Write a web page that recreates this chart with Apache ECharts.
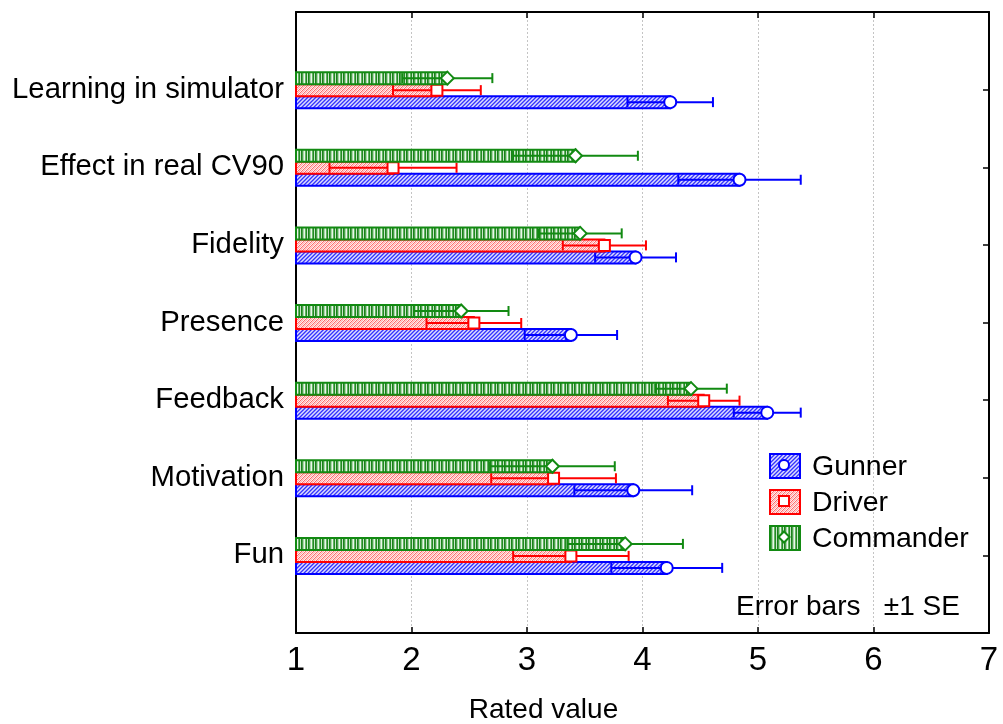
<!DOCTYPE html>
<html><head><meta charset="utf-8">
<script src="https://cdn.jsdelivr.net/npm/echarts@6/dist/echarts.min.js"></script>
<style>html,body{margin:0;padding:0;background:#fff}#c{width:1003px;height:724px}</style>
</head><body><div id="c"></div><script>
// Categories listed bottom to top
const categories = ['Fun', 'Motivation', 'Feedback', 'Presence', 'Fidelity', 'Effect in real CV90', 'Learning in simulator'];
const seriesNames = ['Gunner', 'Driver', 'Commander'];
const gunnerMean = [4.21, 3.92, 5.08, 3.38, 3.94, 4.84, 4.24];
const gunnerSE = [0.48, 0.51, 0.29, 0.40, 0.35, 0.53, 0.37];
const driverMean = [3.38, 3.23, 4.53, 2.54, 3.67, 1.84, 2.22];
const driverSE = [0.50, 0.54, 0.31, 0.41, 0.36, 0.55, 0.38];
const commanderMean = [3.85, 3.22, 4.42, 2.43, 3.46, 3.42, 2.31];
const commanderSE = [0.50, 0.54, 0.31, 0.41, 0.36, 0.54, 0.39];
const xTicks = [1, 2, 3, 4, 5, 6, 7];
const xMin = 1, xMax = 7;

const FONT = '"Liberation Sans", Arial, sans-serif';
const NARROW = '"Liberation Sans Narrow", "Arial Narrow", "Liberation Sans", sans-serif';

function makePattern(kind) {
  const cv = document.createElement('canvas');
  const w = kind === 'green' ? 7 : 4, h = kind === 'green' ? 2 : 4;
  cv.width = w; cv.height = h;
  const ctx = cv.getContext('2d');
  if (kind === 'blue') {
    const c = ['#3434ff', '#7a7aff', '#dcdcff', '#a4a4ff'];
    for (let x = 0; x < w; x++) for (let y = 0; y < h; y++) {
      ctx.fillStyle = c[(x + y) % 4]; ctx.fillRect(x, y, 1, 1);
    }
  } else if (kind === 'red') {
    const c = ['#ff6a6a', '#ffd6d6', '#ffb0b0', '#fff2f2'];
    for (let x = 0; x < w; x++) for (let y = 0; y < h; y++) {
      ctx.fillStyle = c[(x + y) % 4]; ctx.fillRect(x, y, 1, 1);
    }
  } else {
    const cols = ['#1a801a', '#4aa24a', '#a8d6a8', '#eaf6ea', '#62b262', '#238a23', '#c8e6c8'];
    cols.forEach((c, i) => { ctx.fillStyle = c; ctx.fillRect(i, 0, 1, h); });
  }
  return { image: cv, repeat: 'repeat' };
}

const styles = {
  Gunner: { stroke: '#0000ff', pattern: makePattern('blue'), marker: 'circle', offset: 12 },
  Driver: { stroke: '#ff0000', pattern: makePattern('red'), marker: 'square', offset: 0 },
  Commander: { stroke: '#128a12', pattern: makePattern('green'), marker: 'diamond', offset: -12 }
};
const BAR_H = 12;

function markerShape(kind, cx, cy, color) {
  if (kind === 'circle') return { type: 'circle', shape: { cx, cy, r: 6 }, style: { fill: '#fff', stroke: color, lineWidth: 2 } };
  if (kind === 'square') return { type: 'rect', shape: { x: cx - 5.5, y: cy - 5.5, width: 11, height: 11 }, style: { fill: '#fff', stroke: color, lineWidth: 2 } };
  return { type: 'polygon', shape: { points: [[cx, cy - 6.5], [cx + 6.5, cy], [cx, cy + 6.5], [cx - 6.5, cy]] }, style: { fill: '#fff', stroke: color, lineWidth: 2 } };
}

function makeSeries(name, means, ses) {
  const st = styles[name];
  return {
    type: 'custom', name,
    coordinateSystem: 'cartesian2d',
    encode: { x: 0, y: 2 },
    data: means.map((m, i) => [m, ses[i], i + 1]),
    renderItem: function (params, api) {
      const v = api.value(0), se = api.value(1), ci = api.value(2);
      const base = api.coord([xMin, ci]);
      const end = api.coord([v, ci]);
      const lo = api.coord([v - se, ci]);
      const hi = api.coord([v + se, ci]);
      const cy = base[1] + st.offset + 0.5;
      const children = [
        { type: 'rect', shape: { x: base[0], y: cy - BAR_H / 2, width: end[0] - base[0], height: BAR_H },
          style: { fill: st.pattern, stroke: st.stroke, lineWidth: 2 } },
        { type: 'line', shape: { x1: lo[0], y1: cy, x2: hi[0], y2: cy }, style: { stroke: st.stroke, lineWidth: 2 } },
        { type: 'line', shape: { x1: lo[0], y1: cy - 5, x2: lo[0], y2: cy + 5 }, style: { stroke: st.stroke, lineWidth: 2 } },
        { type: 'line', shape: { x1: hi[0], y1: cy - 5, x2: hi[0], y2: cy + 5 }, style: { stroke: st.stroke, lineWidth: 2 } },
        markerShape(st.marker, end[0], cy, st.stroke)
      ];
      return { type: 'group', children };
    }
  };
}

const yData = [''].concat(categories, ['']);

const legendGraphics = [];
const legendTop = [453, 489, 525];
seriesNames.forEach((n, i) => {
  const st = styles[n];
  const y = legendTop[i];
  legendGraphics.push({ type: 'rect', left: 769, top: y, shape: { x: 0, y: 0, width: 30, height: 24 },
    style: { fill: st.pattern, stroke: st.stroke, lineWidth: 2 }, z: 10 });
  const m = markerShape(st.marker, 0, 0, st.stroke);
  if (m.type === 'circle') m.shape = { cx: 784, cy: y + 12, r: 5 };
  else if (m.type === 'rect') m.shape = { x: 779, y: y + 7, width: 10, height: 10 };
  else m.shape = { points: [[784, y + 6.5], [789.5, y + 12], [784, y + 17.5], [778.5, y + 12]] };
  m.z = 11;
  legendGraphics.push(m);
  legendGraphics.push({ type: 'text', left: 812, top: y, z: 11,
    style: { text: n, font: '28.5px ' + FONT, fill: '#000' } });
});
legendGraphics.push({ type: 'text', left: 736, top: 593, z: 11,
  style: { text: 'Error bars   \u00b11 SE', font: '28px ' + FONT, fill: '#000' } });

const chart = echarts.init(document.getElementById('c'), null, { renderer: 'canvas' });
chart.setOption({
  animation: false,
  backgroundColor: '#fff',
  grid: { left: 296, right: 14, top: 12, bottom: 91, containLabel: false, outerBoundsMode: 'none' },
  xAxis: [{
    type: 'value', min: xMin, max: xMax, interval: 1, position: 'bottom',
    name: 'Rated value', nameLocation: 'middle', nameGap: 63,
    nameTextStyle: { fontSize: 28, fontFamily: NARROW, color: '#000', padding: [0, 198, 0, 0] },
    axisLine: { show: true, lineStyle: { color: '#000', width: 2 } },
    axisTick: { show: true, inside: true, length: 6, lineStyle: { color: '#000', width: 1.5 } },
    axisLabel: { fontSize: 33, fontFamily: NARROW, color: '#000', margin: 11,
      formatter: v => xTicks.indexOf(v) >= 0 ? String(v) : '' },
    splitLine: { show: true, lineStyle: { color: '#c4c4c4', type: [2, 2], width: 1 } }
  }, {
    type: 'value', min: xMin, max: xMax, interval: 1, position: 'top',
    axisLine: { show: true, lineStyle: { color: '#000', width: 2 } },
    axisTick: { show: true, inside: true, length: 6, lineStyle: { color: '#000', width: 1.5 } },
    axisLabel: { show: false }, splitLine: { show: false }
  }],
  yAxis: [{
    type: 'category', data: yData, boundaryGap: false, position: 'left',
    axisLine: { show: true, lineStyle: { color: '#000', width: 2 } },
    axisTick: { show: true, inside: true, length: 6, lineStyle: { color: '#000', width: 1.5 } },
    axisLabel: { fontSize: 29.3, fontFamily: FONT, color: '#000', margin: 12 },
    splitLine: { show: false }
  }, {
    type: 'category', data: yData, boundaryGap: false, position: 'right',
    axisLine: { show: true, lineStyle: { color: '#000', width: 2 } },
    axisTick: { show: true, inside: true, length: 6, lineStyle: { color: '#000', width: 1.5 } },
    axisLabel: { show: false }, splitLine: { show: false }
  }],
  series: [
    makeSeries('Gunner', gunnerMean, gunnerSE),
    makeSeries('Driver', driverMean, driverSE),
    makeSeries('Commander', commanderMean, commanderSE)
  ],
  graphic: legendGraphics
});
</script></body></html>
